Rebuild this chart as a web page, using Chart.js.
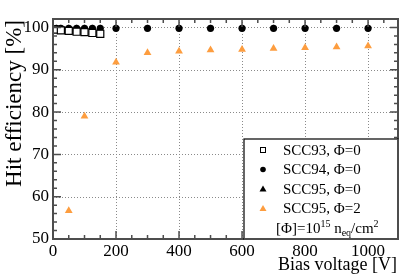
<!DOCTYPE html>
<html>
<head>
<meta charset="utf-8">
<script src="https://cdn.jsdelivr.net/npm/chart.js@4.4.1/dist/chart.umd.min.js"></script>
<style>
  html, body { margin: 0; padding: 0; background: #fff; }
  #wrap { width: 407px; height: 276px; }
</style>
</head>
<body>
<div id="wrap"><canvas id="effChart" width="407" height="276"></canvas></div>
<script>
// === Data ===
const scc93X = [10, 25, 50, 75, 100, 125, 150];
const scc93Y = [99.5, 99.3, 99.2, 99.0, 98.9, 98.7, 98.5];

const scc94X = [10, 25, 50, 75, 100, 125, 150, 200, 300, 400, 500, 600, 700, 800, 900, 1000];
const scc94Y = [99.8, 99.8, 99.8, 99.8, 99.8, 99.8, 99.8, 99.8, 99.8, 99.8, 99.8, 99.8, 99.8, 99.8, 99.8, 99.8];

const scc95X = [10, 25, 50, 75, 100, 125, 150, 200, 300, 400, 500, 600, 700, 800, 900, 1000];
const scc95Y = [99.9, 99.9, 99.9, 99.9, 99.9, 99.9, 99.9, 99.9, 99.9, 99.9, 99.9, 99.9, 99.9, 99.9, 99.9, 99.9];

const scc95IrrX = [50, 100, 200, 300, 400, 500, 600, 700, 800, 900, 1000];
const scc95IrrY = [56.7, 79.0, 91.8, 94.0, 94.4, 94.7, 94.8, 95.0, 95.2, 95.4, 95.6];

const xTicks = [0, 200, 400, 600, 800, 1000];
const yTicks = [50, 60, 70, 80, 90, 100];

const legendLabels = ["SCC93, \u03A6=0", "SCC94, \u03A6=0", "SCC95, \u03A6=0", "SCC95, \u03A6=2"];

const ORANGE = "#fd9d3f";
const FRAME = "#4d4d4d";
const SERIF = "'Liberation Serif', 'DejaVu Serif', serif";

const toPoints = (xs, ys) => xs.map((x, i) => ({ x, y: ys[i] }));

// === Frame, ticks, grid, titles, legend ===
const decorPlugin = {
  id: "decor",
  beforeDatasetsDraw(chart) {
    const { ctx, chartArea: a, scales: { x, y } } = chart;
    ctx.save();
    ctx.strokeStyle = "#8a8a8a";
    ctx.lineWidth = 1;
    ctx.setLineDash([1, 2]);
    xTicks.forEach(v => {
      if (v === 0) return;
      const px = Math.round(x.getPixelForValue(v)) + 0.5;
      ctx.beginPath(); ctx.moveTo(px, a.top); ctx.lineTo(px, a.bottom); ctx.stroke();
    });
    yTicks.forEach(v => {
      if (v === 50) return;
      const py = Math.round(y.getPixelForValue(v)) + 0.5;
      ctx.beginPath(); ctx.moveTo(a.left, py); ctx.lineTo(a.right, py); ctx.stroke();
    });
    ctx.restore();
  },
  afterDatasetsDraw(chart) {
    const { ctx, chartArea: a, scales: { x, y } } = chart;
    ctx.save();
    ctx.strokeStyle = FRAME;
    ctx.lineWidth = 1.5;
    // minor + major ticks, inside the frame on all four sides
    for (let v = 0; v <= x.max; v += 50) {
      const px = x.getPixelForValue(v);
      const len = v % 200 === 0 ? 8 : 4;
      ctx.beginPath();
      ctx.moveTo(px, a.bottom); ctx.lineTo(px, a.bottom - len);
      ctx.moveTo(px, a.top); ctx.lineTo(px, a.top + len);
      ctx.stroke();
    }
    for (let v = 50; v <= y.max; v += 2) {
      const py = y.getPixelForValue(v);
      const len = v % 10 === 0 ? 8 : 4;
      ctx.beginPath();
      ctx.moveTo(a.left, py); ctx.lineTo(a.left + len, py);
      ctx.moveTo(a.right, py); ctx.lineTo(a.right - len, py);
      ctx.stroke();
    }
    ctx.lineWidth = 2;
    ctx.strokeRect(a.left, a.top, a.right - a.left, a.bottom - a.top);

    // legend box
    const bx = 244, by = 139;
    ctx.fillStyle = "#fff";
    ctx.fillRect(bx, by, a.right - bx, a.bottom - by);
    ctx.strokeStyle = "#000";
    ctx.lineWidth = 1.2;
    ctx.strokeRect(bx, by, a.right - bx, a.bottom - by);
    ctx.strokeStyle = FRAME;
    ctx.lineWidth = 2;
    ctx.beginPath();
    ctx.moveTo(a.right, by); ctx.lineTo(a.right, a.bottom); ctx.lineTo(bx, a.bottom);
    ctx.stroke();

    const rows = [150, 169.5, 189, 208.5];
    const mx = 263;
    ctx.font = "15px " + SERIF;
    ctx.textBaseline = "middle";
    ctx.textAlign = "left";
    rows.forEach((ry, i) => {
      const ds = chart.data.datasets[i];
      ctx.fillStyle = ds.pointBackgroundColor;
      ctx.strokeStyle = ds.pointBorderColor;
      ctx.lineWidth = 1;
      ctx.beginPath();
      if (ds.pointStyle === "rect") {
        ctx.fillRect(mx - 2.5, ry - 2.5, 5, 5);
        ctx.strokeRect(mx - 2.5, ry - 2.5, 5, 5);
      } else if (ds.pointStyle === "circle") {
        ctx.arc(mx, ry, 2.8, 0, Math.PI * 2); ctx.fill();
      } else {
        ctx.moveTo(mx, ry - 3.5); ctx.lineTo(mx + 3.5, ry + 2.5); ctx.lineTo(mx - 3.5, ry + 2.5);
        ctx.closePath(); ctx.fill();
      }
      ctx.fillStyle = "#000";
      ctx.fillText(legendLabels[i], 283, ry + 1);
    });

    // fluence unit line
    let tx = 276;
    const ly = 229;
    const part = (txt, size, dy) => {
      ctx.font = size + "px " + SERIF;
      ctx.fillText(txt, tx, ly + dy);
      tx += ctx.measureText(txt).width;
    };
    part("[\u03A6]=10", 15, 0);
    part("15", 10, -5);
    part(" n", 15, 0);
    part("eq", 10, 4);
    part("/cm", 15, 0);
    part("2", 10, -5);

    // axis titles
    ctx.font = "18px " + SERIF;
    ctx.textAlign = "right";
    ctx.textBaseline = "alphabetic";
    ctx.fillText("Bias voltage [V]", 397, 270);
    ctx.save();
    ctx.translate(21, 20);
    ctx.rotate(-Math.PI / 2);
    ctx.font = "23px " + SERIF;
    ctx.textAlign = "right";
    ctx.fillText("Hit efficiency [%]", 0, 0);
    ctx.restore();
    ctx.restore();
  }
};

const ctx = document.getElementById("effChart").getContext("2d");
new Chart(ctx, {
  type: "scatter",
  data: {
    datasets: [
      {
        label: legendLabels[0], data: toPoints(scc93X, scc93Y), pointStyle: "rect",
        pointRadius: 5, pointBackgroundColor: "#fff", pointBorderColor: "#000", pointBorderWidth: 1.2, order: 1
      },
      {
        label: legendLabels[1], data: toPoints(scc94X, scc94Y), pointStyle: "circle",
        pointRadius: 3.6, pointBackgroundColor: "#000", pointBorderColor: "#000", pointBorderWidth: 0, order: 2
      },
      {
        label: legendLabels[2], data: toPoints(scc95X, scc95Y), pointStyle: "triangle",
        pointRadius: 3.5, pointBackgroundColor: "#000", pointBorderColor: "#000", pointBorderWidth: 0, order: 3
      },
      {
        label: legendLabels[3], data: toPoints(scc95IrrX, scc95IrrY), pointStyle: "triangle",
        pointRadius: 4.5, pointBackgroundColor: ORANGE, pointBorderColor: ORANGE, pointBorderWidth: 0, order: 4
      }
    ]
  },
  options: {
    responsive: false,
    animation: false,
    events: [],
    layout: { padding: { top: 19, right: 9, left: 0, bottom: 0 } },
    plugins: { legend: { display: false }, tooltip: { enabled: false } },
    scales: {
      x: {
        type: "linear", min: 0, max: 1095,
        afterBuildTicks: s => { s.ticks = xTicks.map(v => ({ value: v })); },
        afterFit: s => { s.height = 37; },
        grid: { display: false, drawTicks: false },
        border: { display: false },
        ticks: { color: "#000", padding: 2, maxRotation: 0, callback: v => String(v), font: { family: SERIF, size: 17 } }
      },
      y: {
        type: "linear", min: 50, max: 102,
        afterBuildTicks: s => { s.ticks = yTicks.map(v => ({ value: v })); },
        afterFit: s => { s.width = 53; },
        grid: { display: false, drawTicks: false },
        border: { display: false },
        ticks: { color: "#000", padding: 4, callback: v => String(v), font: { family: SERIF, size: 17 } }
      }
    }
  },
  plugins: [decorPlugin]
});
</script>
</body>
</html>
